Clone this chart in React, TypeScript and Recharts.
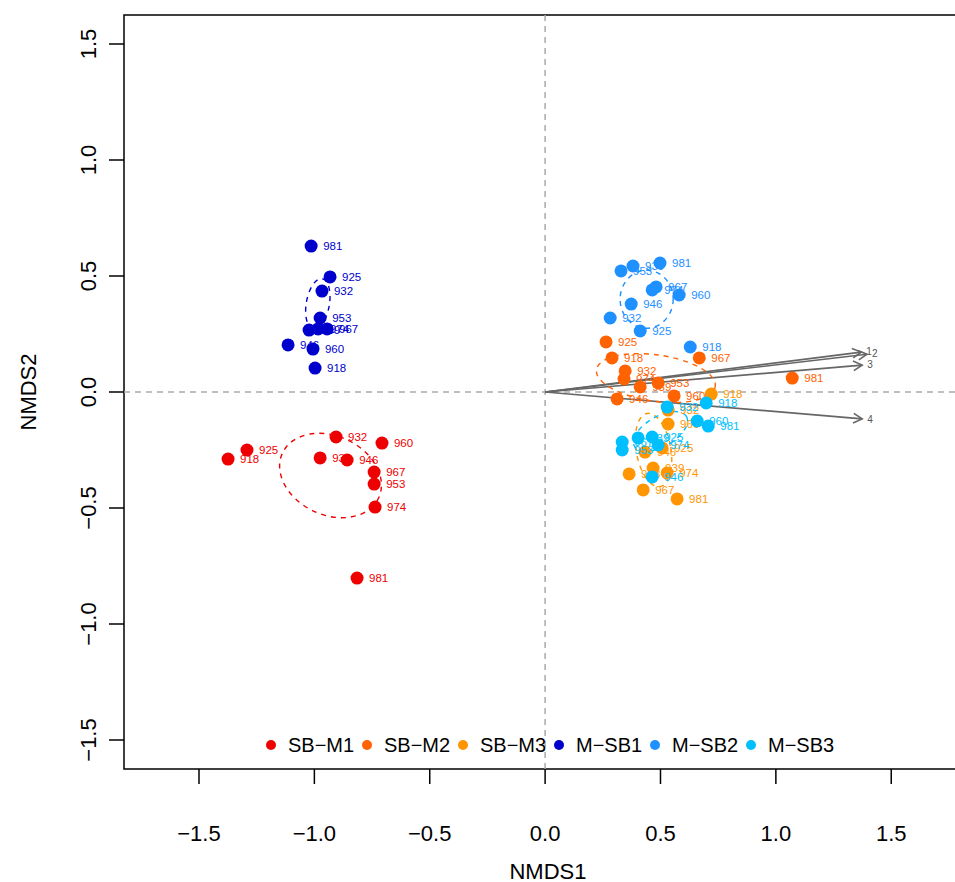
import React from "react";
import {
  ScatterChart,
  Scatter,
  XAxis,
  YAxis,
  ReferenceLine,
  ReferenceArea,
} from "recharts";

// sample sites, same order in every group
const sites = ["918", "925", "932", "939", "946", "953", "960", "967", "974", "981"];

const groupNames = ["SB\u2212M1", "SB\u2212M2", "SB\u2212M3", "M\u2212SB1", "M\u2212SB2", "M\u2212SB3"];
const groupColors = ["#EE0000", "#FF6200", "#FF9500", "#0000CD", "#1E90FF", "#00BFFF"];

// NMDS scores
const sbm1X = [-1.374, -1.292, -0.906, -0.975, -0.858, -0.741, -0.707, -0.741, -0.737, -0.815];
const sbm1Y = [-0.289, -0.25, -0.194, -0.284, -0.293, -0.397, -0.22, -0.345, -0.496, -0.802];
const sbm2X = [0.29, 0.264, 0.347, 0.412, 0.312, 0.49, 0.559, 0.668, 0.342, 1.071];
const sbm2Y = [0.147, 0.216, 0.091, 0.022, -0.03, 0.039, -0.017, 0.147, 0.056, 0.06];
const sbm3X = [0.72, 0.507, 0.533, 0.468, 0.433, 0.364, 0.533, 0.425, 0.529, 0.572];
const sbm3Y = [-0.009, -0.241, -0.078, -0.328, -0.259, -0.353, -0.138, -0.422, -0.349, -0.461];
const msb1X = [-0.997, -0.932, -0.967, -1.023, -1.114, -0.975, -1.006, -0.945, -0.984, -1.014];
const msb1Y = [0.103, 0.496, 0.435, 0.267, 0.203, 0.319, 0.185, 0.272, 0.272, 0.629];
const msb2X = [0.629, 0.412, 0.282, 0.381, 0.373, 0.329, 0.581, 0.481, 0.464, 0.498];
const msb2Y = [0.194, 0.263, 0.319, 0.543, 0.379, 0.522, 0.418, 0.453, 0.44, 0.556];
const msb3X = [0.698, 0.464, 0.529, 0.403, 0.464, 0.334, 0.659, 0.334, 0.49, 0.707];
const msb3Y = [-0.047, -0.194, -0.065, -0.198, -0.366, -0.25, -0.125, -0.216, -0.228, -0.147];

// group ellipses: centre, semi-axes (NMDS units), rotation (deg, screen)
const ellCx = [-0.93, 0.48, 0.47, -0.985, 0.44, 0.5];
const ellCy = [-0.36, 0.06, -0.25, 0.38, 0.4, -0.17];
const ellRx = [0.23, 0.26, 0.075, 0.05, 0.115, 0.13];
const ellRy = [0.17, 0.1, 0.16, 0.11, 0.125, 0.065];
const ellRot = [25, 8, -10, 10, 0, -30];

// fitted environmental vectors
const arrowLabels = ["1", "2", "3", "4"];
const arrowX = [1.37, 1.395, 1.374, 1.374];
const arrowY = [0.172, 0.163, 0.116, -0.116];

const ticks = [-1.5, -1, -0.5, 0, 0.5, 1, 1.5];

const X_DOMAIN: [number, number] = [-1.825, 1.85];
const Y_DOMAIN: [number, number] = [-1.625, 1.625];
const PLOT_W = 848;
const PLOT_H = 754;
const PX_X = PLOT_W / (X_DOMAIN[1] - X_DOMAIN[0]);
const PX_Y = PLOT_H / (Y_DOMAIN[1] - Y_DOMAIN[0]);

const FONT = '"Liberation Sans", Arial, sans-serif';

const allX = [sbm1X, sbm2X, sbm3X, msb1X, msb2X, msb3X];
const allY = [sbm1Y, sbm2Y, sbm3Y, msb1Y, msb2Y, msb3Y];

const groups = groupNames.map((name, g) => ({
  name,
  color: groupColors[g],
  points: allX[g].map((x, i) => ({ x, y: allY[g][i], label: sites[i] })),
  ellipse: [{ x: ellCx[g], y: ellCy[g], rx: ellRx[g], ry: ellRy[g], rot: ellRot[g] }],
}));

const fmt = (v: number) => v.toFixed(1).replace("-", "\u2212");

const XTick = (props: any) => {
  const { x, y, payload } = props;
  return (
    <text x={x} y={y} dy="0.72em" textAnchor="middle" fontSize={22} fontFamily={FONT} fill="#000">
      {fmt(payload.value)}
    </text>
  );
};

const YTick = (props: any) => {
  const { x, y, payload } = props;
  return (
    <text
      x={x}
      y={y}
      transform={`rotate(-90 ${x} ${y})`}
      textAnchor="middle"
      fontSize={22}
      fontFamily={FONT}
      fill="#000"
    >
      {fmt(payload.value)}
    </text>
  );
};

const arrowShape = (label: string) => (props: any) => {
  const { x1, y1, x2, y2 } = props;
  const a = Math.atan2(y2 - y1, x2 - x1);
  const len = 10;
  const spread = 0.5;
  const hx1 = x2 - len * Math.cos(a - spread);
  const hy1 = y2 - len * Math.sin(a - spread);
  const hx2 = x2 - len * Math.cos(a + spread);
  const hy2 = y2 - len * Math.sin(a + spread);
  return (
    <g>
      <line x1={x1} y1={y1} x2={x2} y2={y2} stroke="#666" strokeWidth={1.6} />
      <polyline
        points={`${hx1},${hy1} ${x2},${y2} ${hx2},${hy2}`}
        fill="none"
        stroke="#666"
        strokeWidth={1.6}
      />
      <text
        x={x2 + 4 * Math.cos(a) + 1}
        y={y2 + 4 * Math.sin(a)}
        dy="0.35em"
        fontSize={10}
        fontFamily={FONT}
        fill="#555"
      >
        {label}
      </text>
    </g>
  );
};

const pointShape = (color: string) => (props: any) => {
  const { cx, cy, payload } = props;
  return (
    <g>
      <circle cx={cx} cy={cy} r={6.5} fill={color} />
      <text x={cx + 12} y={cy} dy="0.35em" fontSize={11.5} fontFamily={FONT} fill={color}>
        {payload.label}
      </text>
    </g>
  );
};

const ellipseShape = (color: string) => (props: any) => {
  const { cx, cy, payload } = props;
  return (
    <ellipse
      cx={cx}
      cy={cy}
      rx={payload.rx * PX_X}
      ry={payload.ry * PX_Y}
      transform={`rotate(${payload.rot} ${cx} ${cy})`}
      fill="none"
      stroke={color}
      strokeWidth={1.4}
      strokeDasharray="5 5"
    />
  );
};

export default function App() {
  return (
    <div
      style={{
        position: "absolute",
        left: 0,
        top: 0,
        width: 955,
        height: 882,
        overflow: "hidden",
        background: "#fff",
        fontFamily: FONT,
      }}
    >
      <ScatterChart width={980} height={882} margin={{ top: 15, right: 8, bottom: 0, left: 0 }}>
        <XAxis
          type="number"
          dataKey="x"
          domain={X_DOMAIN}
          allowDataOverflow
          ticks={ticks}
          height={113}
          axisLine={false}
          tickLine={{ stroke: "#000", strokeWidth: 1.5 }}
          tickSize={15}
          tickMargin={41}
          tick={<XTick />}
          interval={0}
          label={{
            content: ({ viewBox }: any) => (
              <text
                x={viewBox.x + viewBox.width / 2}
                y={viewBox.y + 102}
                dy="0.35em"
                textAnchor="middle"
                fontSize={22}
                fontFamily={FONT}
                fill="#000"
              >
                NMDS1
              </text>
            ),
          }}
        />
        <YAxis
          type="number"
          dataKey="y"
          domain={Y_DOMAIN}
          allowDataOverflow
          ticks={ticks}
          width={124}
          axisLine={false}
          tickLine={{ stroke: "#000", strokeWidth: 1.5 }}
          tickSize={15}
          tickMargin={13}
          tick={<YTick />}
          interval={0}
          label={{
            content: ({ viewBox }: any) => {
              const cy = viewBox.y + viewBox.height / 2;
              return (
                <text
                  x={28}
                  y={cy}
                  dy="0.35em"
                  transform={`rotate(-90 28 ${cy})`}
                  textAnchor="middle"
                  fontSize={22}
                  fontFamily={FONT}
                  fill="#000"
                >
                  NMDS2
                </text>
              );
            },
          }}
        />
        <ReferenceLine x={0} stroke="#AAAAAA" strokeWidth={1.5} strokeDasharray="6 5" />
        <ReferenceLine y={0} stroke="#AAAAAA" strokeWidth={1.5} strokeDasharray="6 5" />

        {groups.map((g) => (
          <Scatter
            key={g.name + "-ell"}
            data={g.ellipse}
            shape={ellipseShape(g.color)}
            isAnimationActive={false}
          />
        ))}

        {arrowLabels.map((lab, i) => (
          <ReferenceLine
            key={"arrow" + lab}
            segment={[
              { x: 0, y: 0 },
              { x: arrowX[i], y: arrowY[i] },
            ]}
            shape={arrowShape(lab)}
          />
        ))}

        {groups.map((g) => (
          <Scatter
            key={g.name}
            name={g.name}
            data={g.points}
            shape={pointShape(g.color)}
            isAnimationActive={false}
          />
        ))}

        <ReferenceArea
          x1={X_DOMAIN[0]}
          x2={X_DOMAIN[1]}
          y1={Y_DOMAIN[0]}
          y2={Y_DOMAIN[1]}
          fill="none"
          fillOpacity={0}
          stroke="#000"
          strokeWidth={1.5}
        />
      </ScatterChart>

      <div
        style={{
          position: "absolute",
          left: 262,
          top: 733,
          height: 24,
          display: "flex",
          alignItems: "center",
        }}
      >
        {groups.map((g) => (
          <div key={g.name} style={{ width: 96, display: "flex", alignItems: "center" }}>
            <span
              style={{
                width: 10,
                height: 10,
                borderRadius: "50%",
                background: g.color,
                marginLeft: 4,
                marginRight: 12,
                display: "inline-block",
              }}
            />
            <span style={{ fontSize: 20, color: "#000", whiteSpace: "nowrap", lineHeight: "24px" }}>
              {g.name}
            </span>
          </div>
        ))}
      </div>
    </div>
  );
}
